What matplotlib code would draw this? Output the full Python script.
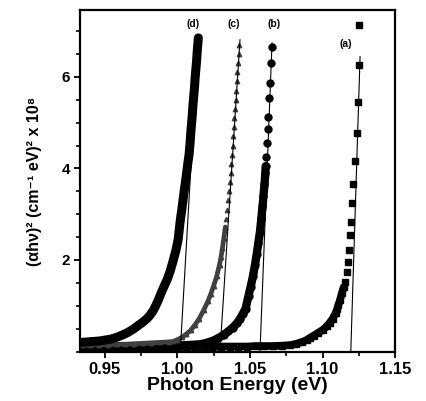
import matplotlib.pyplot as plt
from matplotlib.ticker import FixedLocator, MultipleLocator
import numpy as np

# (d) down triangles
d_x = [0.934, 0.938, 0.942, 0.946, 0.950, 0.954, 0.958, 0.962, 0.966, 0.970,
       0.973, 0.976, 0.979, 0.981, 0.983, 0.985, 0.987, 0.989, 0.991, 0.993,
       0.995, 0.997, 0.999, 1.0005, 1.0017, 1.0023, 1.0030, 1.0036, 1.0042,
       1.0048, 1.0055, 1.0061, 1.0067, 1.0073, 1.0080, 1.0084, 1.0088, 1.0091,
       1.0095, 1.0099, 1.0103, 1.0106, 1.0110, 1.0114, 1.0118, 1.0121, 1.0125,
       1.0129, 1.0133, 1.0136, 1.0140, 1.0144]
d_y = [0.20, 0.21, 0.22, 0.23, 0.25, 0.27, 0.31, 0.36, 0.42, 0.50,
       0.57, 0.64, 0.72, 0.79, 0.88, 1.00, 1.14, 1.30, 1.44, 1.58,
       1.76, 1.98, 2.22, 2.45, 2.80, 2.95, 3.10, 3.25, 3.40,
       3.55, 3.70, 3.85, 4.00, 4.15, 4.30, 4.45, 4.60, 4.75,
       4.90, 5.05, 5.20, 5.35, 5.50, 5.65, 5.80, 5.95, 6.10,
       6.25, 6.40, 6.55, 6.70, 6.85]

# (c) small up triangles
c_x = [0.934, 0.940, 0.946, 0.952, 0.958, 0.964, 0.970, 0.976, 0.982, 0.988,
       0.994, 0.997, 1.000, 1.003, 1.006, 1.009, 1.012, 1.015, 1.018, 1.021,
       1.023, 1.025, 1.027, 1.029, 1.030, 1.031, 1.032, 1.033, 1.0336, 1.0342,
       1.0348, 1.0354, 1.0360, 1.0366, 1.0372, 1.0377, 1.0381, 1.0385, 1.0389,
       1.0393, 1.0397, 1.0401, 1.0405, 1.0409, 1.0413, 1.0417, 1.0421, 1.0425]
c_y = [0.14, 0.14, 0.15, 0.15, 0.16, 0.16, 0.17, 0.18, 0.19, 0.20,
       0.21, 0.22, 0.26, 0.31, 0.38, 0.46, 0.58, 0.72, 0.90, 1.10,
       1.26, 1.44, 1.64, 1.90, 2.06, 2.26, 2.48, 2.72, 2.90, 3.10,
       3.30, 3.50, 3.70, 3.90, 4.10, 4.30, 4.50, 4.70, 4.90,
       5.10, 5.30, 5.50, 5.70, 5.90, 6.10, 6.30, 6.50, 6.70]

# (b) circles
b_x = [0.934, 0.940, 0.946, 0.952, 0.958, 0.964, 0.970, 0.976, 0.982, 0.988,
       0.994, 1.000, 1.006, 1.012, 1.016, 1.020, 1.024, 1.028, 1.032, 1.035,
       1.038, 1.041, 1.043, 1.045, 1.047, 1.049, 1.0505, 1.052, 1.0534, 1.0546,
       1.0558, 1.0569, 1.0578, 1.0586, 1.0593, 1.0600, 1.0606, 1.0608, 1.0611,
       1.0617, 1.0622, 1.0627, 1.0633, 1.0638, 1.0645, 1.0652]
b_y = [0.10, 0.10, 0.10, 0.11, 0.11, 0.11, 0.11, 0.12, 0.12, 0.12,
       0.13, 0.13, 0.14, 0.15, 0.16, 0.19, 0.23, 0.29, 0.37, 0.44,
       0.52, 0.62, 0.71, 0.82, 0.94, 1.22, 1.42, 1.64, 1.88, 2.12,
       2.38, 2.62, 2.90, 3.15, 3.40, 3.65, 3.90, 4.05, 4.25,
       4.56, 4.86, 5.12, 5.54, 5.87, 6.31, 6.66]

# (a) squares
a_x = [0.934, 0.940, 0.946, 0.952, 0.958, 0.964, 0.970, 0.976, 0.982, 0.988,
       0.994, 1.000, 1.006, 1.012, 1.018, 1.024, 1.030, 1.036, 1.042, 1.048,
       1.054, 1.060, 1.066, 1.072, 1.0776, 1.082, 1.086, 1.089, 1.0914, 1.094,
       1.097, 1.100, 1.103, 1.105, 1.107, 1.109, 1.110, 1.111, 1.112, 1.1134,
       1.1145, 1.1155, 1.1169, 1.1176, 1.1183, 1.1190, 1.1197, 1.1203, 1.1210,
       1.1224, 1.1238, 1.1245, 1.1252, 1.1252]
a_y = [0.08, 0.08, 0.08, 0.08, 0.08, 0.09, 0.09, 0.09, 0.09, 0.09,
       0.09, 0.10, 0.10, 0.10, 0.10, 0.10, 0.11, 0.11, 0.11, 0.11,
       0.12, 0.12, 0.12, 0.13, 0.14, 0.17, 0.21, 0.25, 0.30, 0.35,
       0.41, 0.47, 0.55, 0.63, 0.72, 0.84, 0.92, 1.02, 1.12, 1.28,
       1.40, 1.52, 1.74, 1.96, 2.22, 2.55, 2.83, 3.24, 3.67,
       4.17, 4.78, 5.45, 6.26, 7.14]

# linear fits: (x at y=0, x at top, y at top)
fits = {'a': (1.1195, 1.1259, 6.44),
        'b': (1.0569, 1.0652, 6.74),
        'c': (1.0293, 1.0431, 6.81),
        'd': (1.0019, 1.0144, 6.85)}

labels = ['(d)', '(c)', '(b)', '(a)']
label_x = [1.0110, 1.0390, 1.0665, 1.1160]
label_y = [7.15, 7.15, 7.15, 6.72]

plt.rcParams['font.family'] = ['Liberation Sans', 'DejaVu Sans']
plt.rcParams['font.weight'] = 'bold'

fig = plt.figure(figsize=(4.27, 4.01), dpi=100)
ax = fig.add_axes([0.1874, 0.1222, 0.7377, 0.8529])

for key in fits:
    x0, x1, y1 = fits[key]
    ax.plot([x0, x1], [0, y1], color='black', lw=0.8, zorder=3)

# (series, marker, size, colour, band line width, band top)
series = [(a_x, a_y, 's', 4.4, 'black', 5.5, 1.45),
          (b_x, b_y, 'o', 5.0, 'black', 6.0, 4.1),
          (c_x, c_y, '^', 3.2, '0.25', 3.4, 2.8),
          (d_x, d_y, 'v', 5.0, 'black', 6.5, 7.0)]
for x, y, m, ms, col, lw, top in series:
    x = np.array(x)
    y = np.array(y)
    band = y <= top
    ax.plot(x[band], y[band], color=col, lw=lw, solid_capstyle='round',
            solid_joinstyle='round', zorder=2)
    ax.plot(x, y, ls='none', marker=m, ms=ms, color=col, zorder=2)

for t, x, y in zip(labels, label_x, label_y):
    ax.text(x, y, t, fontsize=7.5, fontweight='bold', ha='center', va='center')

ax.set_xlim(0.9328, 1.15)
ax.set_ylim(-0.01, 7.46)
ax.xaxis.set_major_locator(FixedLocator([0.95, 1.00, 1.05, 1.10, 1.15]))
ax.xaxis.set_minor_locator(MultipleLocator(0.025))
ax.yaxis.set_major_locator(FixedLocator([2, 4, 6]))
ax.yaxis.set_minor_locator(MultipleLocator(0.5))
ax.set_xticklabels(['0.95', '1.00', '1.05', '1.10', '1.15'])
ax.set_yticklabels(['2', '4', '6'])
ax.tick_params(which='major', direction='out', length=4, width=1.3,
               labelsize=11, pad=3)
ax.tick_params(axis='x', labelsize=12)
ax.tick_params(which='minor', direction='out', length=3, width=1.2)
for s in ax.spines.values():
    s.set_linewidth(1.6)

ax.set_xlabel('Photon Energy (eV)', fontsize=14, fontweight='bold', labelpad=0)
ax.set_ylabel('(αhν)² (cm⁻¹ eV)² x 10⁸', fontsize=11.5, fontweight='bold',
              labelpad=14)

fig.savefig('out.png', dpi=100)
